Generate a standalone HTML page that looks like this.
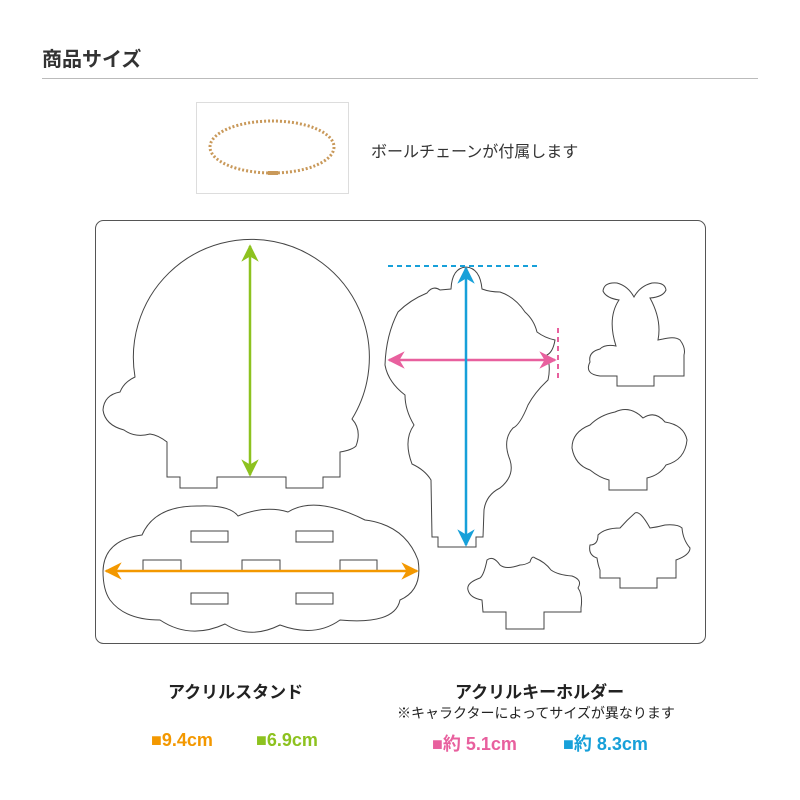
<!DOCTYPE html>
<html><head><meta charset="utf-8"><style>
body{margin:0;background:#fff;width:800px;height:800px;overflow:hidden;position:relative;font-family:"Liberation Sans","Noto Sans CJK JP",sans-serif;color:#333}
.t{position:absolute;white-space:nowrap}
</style></head><body>
<div class="t" style="left:42px;top:43px;font-size:20px;font-weight:bold;color:#333">商品サイズ</div>
<div style="position:absolute;left:42px;top:78px;width:716px;height:1px;background:#bbb"></div>
<div style="position:absolute;left:196px;top:102px;width:151px;height:90px;border:1px solid #ddd"></div>
<div class="t" style="left:371px;top:138px;font-size:16px;color:#333">ボールチェーンが付属します</div>
<svg width="800" height="800" style="position:absolute;left:0;top:0">
<defs>
<marker id="ag" viewBox="0 0 10 10" refX="9" refY="5" markerWidth="7" markerHeight="7" orient="auto-start-reverse"><path d="M0,0L10,5L0,10L3,5z" fill="#8dc21f"/></marker>
<marker id="ao" viewBox="0 0 10 10" refX="9" refY="5" markerWidth="7" markerHeight="7" orient="auto-start-reverse"><path d="M0,0L10,5L0,10L3,5z" fill="#f39800"/></marker>
<marker id="ap" viewBox="0 0 10 10" refX="9" refY="5" markerWidth="7" markerHeight="7" orient="auto-start-reverse"><path d="M0,0L10,5L0,10L3,5z" fill="#e8609e"/></marker>
<marker id="ab" viewBox="0 0 10 10" refX="9" refY="5" markerWidth="7" markerHeight="7" orient="auto-start-reverse"><path d="M0,0L10,5L0,10L3,5z" fill="#17a0d9"/></marker>
</defs>
<ellipse cx="272" cy="147" rx="62" ry="26" fill="none" stroke="#c9995a" stroke-width="3" stroke-dasharray="2 2"/>
<rect x="268" y="171" width="10" height="4" fill="#c9995a"/>
<rect x="95.5" y="220.5" width="610" height="423" rx="8" fill="none" stroke="#555"/>
<g fill="none" stroke="#444" stroke-width="1">
<path d="M135,377 A118,118 0 1 1 352,419 Q362,430 356,446 Q352,450 340,452 L340,477 L323,477 L323,488 L286,488 L286,477 L217,477 L217,488 L180,488 L180,477 L167,477 L167,442 Q158,435 150,434 Q135,438 124,430 Q105,425 103,410 Q104,395 120,392 Q124,382 135,377Z"/>
<path d="M103,571 Q104,540 142,535 Q155,505 200,506 Q230,505 238,516 Q265,505 288,512 Q315,495 365,520 Q405,525 418,560 Q423,590 400,600 Q395,625 340,620 Q315,638 280,625 Q250,640 225,624 Q190,640 160,620 Q125,620 110,600 Q103,590 103,571Z"/>
<rect x="191" y="531" width="37" height="11"/><rect x="296" y="531" width="37" height="11"/>
<path d="M143,571V560H181V571M242,571V560H280V571M340,571V560H377V571"/>
<rect x="191" y="593" width="37" height="11"/><rect x="296" y="593" width="37" height="11"/>
<path d="M451,289 Q452,268 466,267 Q480,268 482,289 Q490,292 500,292 Q515,297 525,312 Q534,320 537,332 Q545,338 555,340 Q553,352 547,355 Q551,367 548,380 Q535,392 528,405 Q520,425 513,428 Q502,440 510,460 Q515,476 500,488 Q486,495 484,510 L483,537 L476,537 L476,547 L438,547 L438,537 L432,537 L431,480 Q425,470 412,464 Q403,440 414,425 Q405,410 405,395 Q388,382 385,365 Q386,335 398,312 Q410,300 427,293 Q433,285 440,290 Z"/>
<path d="M617,386V376H600Q584,374 590,362 Q588,352 600,349 Q605,344 616,346 Q607,318 619,300 Q606,298 603,291 Q604,282 617,283 Q628,286 634,297 Q640,286 652,283 Q665,282 666,290 Q663,297 650,298 Q662,320 658,340 L663,339 Q675,336 680,340 Q686,348 684,355 L684,376 L654,376 L654,386Z"/>
<path d="M609,490H647V478Q660,475 666,465 Q685,460 687,440 Q684,425 665,422 Q655,410 643,418 Q630,405 615,412 Q600,415 590,425 Q572,432 572,448 Q575,465 590,470 Q600,478 609,480Z"/>
<path d="M600,578H620V588H657V578H676V560Q690,555 690,548 Q683,540 682,528 Q678,524 665,525 Q658,527 650,528 Q640,510 635,513 Q627,520 620,528 Q605,528 598,535 Q598,545 590,545 Q588,555 597,558 Q598,565 600,570Z"/>
<path d="M483,612H506V629H544V612H581V608Q583,595 578,588 Q583,580 572,576 Q558,575 551,570 Q545,562 535,558 Q532,555 530,562 Q525,565 520,565 Q506,570 500,565 Q493,555 487,560 Q484,575 480,578 Q466,583 468,590 Q470,598 482,600Z"/>
</g>
<line x1="388" y1="266" x2="540" y2="266" stroke="#17a0d9" stroke-width="2" stroke-dasharray="5 4"/>
<line x1="558" y1="328" x2="558" y2="382" stroke="#e8609e" stroke-width="2" stroke-dasharray="5 4"/>
<line x1="250" y1="246" x2="250" y2="475" stroke="#8dc21f" stroke-width="2.5" marker-start="url(#ag)" marker-end="url(#ag)"/>
<line x1="106" y1="571" x2="417" y2="571" stroke="#f39800" stroke-width="2.5" marker-start="url(#ao)" marker-end="url(#ao)"/>
<line x1="389" y1="360" x2="555" y2="360" stroke="#e8609e" stroke-width="2.5" marker-start="url(#ap)" marker-end="url(#ap)"/>
<line x1="466" y1="268" x2="466" y2="545" stroke="#17a0d9" stroke-width="2.5" marker-start="url(#ab)" marker-end="url(#ab)"/>
</svg>
<div class="t" style="left:168px;top:678px;font-size:17px;font-weight:bold;color:#222">アクリルスタンド</div>
<div class="t" style="left:455px;top:678px;font-size:17px;font-weight:bold;color:#222">アクリルキーホルダー</div>
<div class="t" style="left:397px;top:703px;font-size:14px;color:#222">※キャラクターによってサイズが異なります</div>
<div class="t" style="left:151px;top:730px;font-size:18px;font-weight:bold;color:#f39800">■9.4cm</div>
<div class="t" style="left:256px;top:730px;font-size:18px;font-weight:bold;color:#8dc21f">■6.9cm</div>
<div class="t" style="left:432px;top:730px;font-size:18px;font-weight:bold;color:#e8609e">■約 5.1cm</div>
<div class="t" style="left:563px;top:730px;font-size:18px;font-weight:bold;color:#17a0d9">■約 8.3cm</div>
</body></html>
